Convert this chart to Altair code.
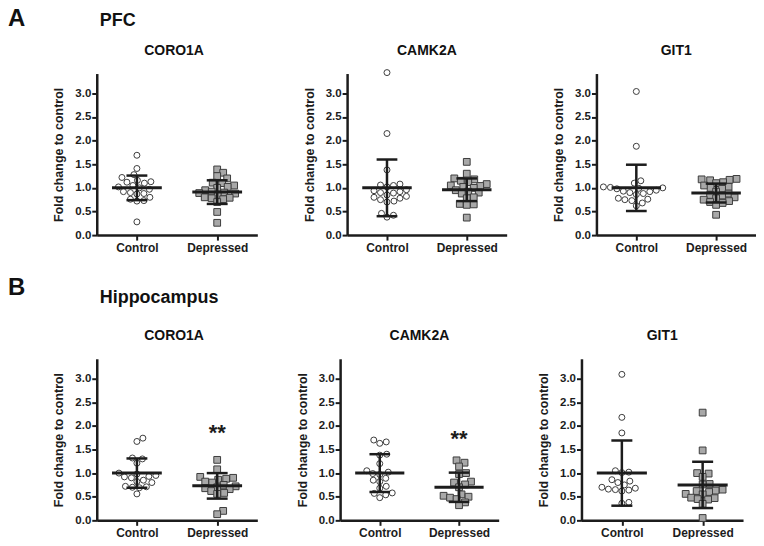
import altair as alt
import pandas as pd

# ---------------- data ----------------
groups = ["Control", "Depressed"]
regions = ["PFC", "Hippocampus"]
region_letters = ["A", "B"]
genes = ["CORO1A", "CAMK2A", "GIT1"]
y_ticks = [0.0, 0.5, 1.0, 1.5, 2.0, 2.5, 3.0]
y_max = 3.42

pfc_coro1a_control = [1.69, 1.41, 1.28, 1.22, 1.16, 1.13, 1.12, 1.10, 1.05, 1.02, 1.00,
                      0.97, 0.92, 0.90, 0.88, 0.87, 0.80, 0.76, 0.73, 0.72, 0.28]
pfc_coro1a_depressed = [1.39, 1.32, 1.25, 1.20, 1.11, 1.10, 1.05, 1.02, 1.00, 0.95, 0.92,
                        0.90, 0.89, 0.88, 0.85, 0.80, 0.79, 0.78, 0.76, 0.70, 0.49, 0.26]
pfc_camk2a_control = [3.44, 2.15, 1.38, 1.08, 1.06, 1.05, 1.02, 0.96, 0.94, 0.92, 0.90,
                      0.89, 0.85, 0.82, 0.80, 0.78, 0.75, 0.72, 0.70, 0.46, 0.42, 0.38]
pfc_camk2a_depressed = [1.55, 1.30, 1.20, 1.18, 1.15, 1.12, 1.08, 1.05, 1.04, 1.02, 1.00,
                        0.95, 0.92, 0.90, 0.88, 0.80, 0.78, 0.66, 0.65, 0.64, 0.37]
pfc_git1_control = [3.04, 1.88, 1.15, 1.10, 1.02, 1.01, 1.00, 0.99, 0.98, 0.95, 0.93,
                    0.92, 0.90, 0.88, 0.86, 0.78, 0.76, 0.75, 0.73, 0.68, 0.62]
pfc_git1_depressed = [1.19, 1.18, 1.17, 1.16, 1.12, 1.10, 1.05, 1.02, 1.00, 0.98, 0.92,
                      0.88, 0.85, 0.84, 0.80, 0.78, 0.75, 0.72, 0.70, 0.68, 0.64, 0.43]
hip_coro1a_control = [1.74, 1.67, 1.32, 1.30, 1.21, 1.00, 0.98, 0.95, 0.93, 0.92, 0.90,
                      0.85, 0.82, 0.80, 0.72, 0.71, 0.70, 0.69, 0.56]
hip_coro1a_depressed = [1.28, 1.08, 0.92, 0.90, 0.88, 0.86, 0.82, 0.80, 0.75, 0.72, 0.70,
                        0.68, 0.66, 0.62, 0.58, 0.56, 0.20, 0.13]
hip_camk2a_control = [1.70, 1.66, 1.63, 1.40, 1.38, 1.20, 1.05, 1.02, 0.99, 0.97, 0.89,
                      0.85, 0.82, 0.72, 0.68, 0.58, 0.57, 0.54, 0.48]
hip_camk2a_depressed = [1.27, 1.22, 1.14, 1.00, 0.98, 0.82, 0.80, 0.76, 0.70, 0.55, 0.52,
                        0.50, 0.48, 0.45, 0.38, 0.32]
hip_git1_control = [3.09, 2.18, 1.85, 1.05, 1.02, 1.01, 0.86, 0.83, 0.80, 0.75, 0.70,
                    0.68, 0.66, 0.65, 0.64, 0.62, 0.38, 0.36]
hip_git1_depressed = [2.28, 1.48, 1.00, 0.99, 0.92, 0.77, 0.76, 0.65, 0.63, 0.62, 0.60,
                      0.56, 0.55, 0.48, 0.47, 0.45, 0.44, 0.35, 0.05]

# mean and SD (error bars) per gene
pfc_mean_control = [1.00, 1.00, 1.00]
pfc_mean_depressed = [0.91, 0.96, 0.89]
pfc_sd_control = [0.26, 0.60, 0.49]
pfc_sd_depressed = [0.25, 0.24, 0.20]
hip_mean_control = [1.00, 1.00, 1.00]
hip_mean_depressed = [0.73, 0.70, 0.75]
hip_sd_control = [0.31, 0.40, 0.69]
hip_sd_depressed = [0.27, 0.31, 0.49]

# significance marks over the Depressed group
pfc_sig = ["", "", ""]
pfc_sig_y = [0, 0, 0]
hip_sig = ["**", "**", ""]
hip_sig_y = [1.71, 1.58, 0]

# ---------------- style / layout ----------------
FONT = "Liberation Sans"
INK = "#1c1c1c"
PANEL_H = 162
ROW_WIDTHS = [[161, 160, 160], [161, 159, 162]]
ROW_SPACING = [90, 83]
TITLE_Y = [-19, -19]
TITLE_DX = [-3, 0, 0]
LETTER_Y = [-48, -64]
REGION_Y = [-48, -56]
DIAM = 6.6
MEAN_HALF = 0.31
CAP_HALF = 0.13


def swarm(vals, ppu_y, diam):
    """Deterministic beeswarm: horizontal pixel offsets so markers do not overlap."""
    order = sorted(range(len(vals)), key=lambda i: vals[i])
    placed = []
    offs = [0.0] * len(vals)
    cands = [0.0]
    for k in range(1, 200):
        cands += [k * 0.5, -k * 0.5]
    for i in order:
        y = vals[i] * ppu_y
        chosen = 0.0
        for c in cands:
            if all((c - px) ** 2 + (y - py) ** 2 >= diam ** 2 for px, py in placed):
                chosen = c
                break
        offs[i] = chosen
        placed.append((chosen, y))
    return offs


all_values = {
    0: [(pfc_coro1a_control, pfc_coro1a_depressed),
        (pfc_camk2a_control, pfc_camk2a_depressed),
        (pfc_git1_control, pfc_git1_depressed)],
    1: [(hip_coro1a_control, hip_coro1a_depressed),
        (hip_camk2a_control, hip_camk2a_depressed),
        (hip_git1_control, hip_git1_depressed)],
}
all_stats = {
    0: (pfc_mean_control, pfc_mean_depressed, pfc_sd_control, pfc_sd_depressed, pfc_sig, pfc_sig_y),
    1: (hip_mean_control, hip_mean_depressed, hip_sd_control, hip_sd_depressed, hip_sig, hip_sig_y),
}

label_expr = "[" + ",".join("'" + g + "'" for g in groups) + "][datum.value - 1]"


def text_layer(txt, x, y, size, align):
    df = pd.DataFrame({"t": [txt]})
    return alt.Chart(df).mark_text(fontSize=size, fontWeight="bold", color="#111111",
                                   align=align, baseline="alphabetic").encode(
        x=alt.value(x), y=alt.value(y), text="t:N")


def make_panel(r, g):
    width = ROW_WIDTHS[r][g]
    ppx = width / 2.0
    ppu_y = PANEL_H / y_max
    ctrl, dep = all_values[r][g]
    mc, md, sc, sd, sig, sig_y = all_stats[r]

    rows = []
    for gi, vals in enumerate([ctrl, dep]):
        offs = swarm(vals, ppu_y, DIAM)
        for v, o in zip(vals, offs):
            rows.append({"group": groups[gi], "gx": gi + 1 + o / ppx, "value": v})
    pts = pd.DataFrame(rows)

    stats = pd.DataFrame({"group": groups, "gx": [1, 2],
                          "mean": [mc[g], md[g]], "sd": [sc[g], sd[g]]})

    xs = alt.Scale(domain=[0.5, 2.5], nice=False, zero=False)
    ys = alt.Scale(domain=[0, y_max], nice=False, zero=True)
    x_axis = alt.Axis(values=[1, 2], labelExpr=label_expr, title=None)
    y_axis = alt.Axis(values=y_ticks, format=".1f", title="Fold change to control",
                      labelOverlap=False, tickCount=7)

    def X(f):
        return alt.X(f, scale=xs, axis=x_axis)

    def Y(f):
        return alt.Y(f, scale=ys, axis=y_axis)

    points = alt.Chart(pts).mark_point(opacity=1, strokeWidth=1, stroke="#3d3d3d").encode(
        x=X("gx:Q"),
        y=Y("value:Q"),
        shape=alt.Shape("group:N", scale=alt.Scale(domain=groups, range=["circle", "square"]), legend=None),
        fill=alt.Fill("group:N", scale=alt.Scale(domain=groups, range=["#ffffff", "#a8a8a8"]), legend=None),
        size=alt.Size("group:N", scale=alt.Scale(domain=groups, range=[36, 46]), legend=None),
    )

    sbase = alt.Chart(stats).transform_calculate(
        lo="datum.mean - datum.sd", hi="datum.mean + datum.sd",
        mx1="datum.gx - %f" % MEAN_HALF, mx2="datum.gx + %f" % MEAN_HALF,
        cx1="datum.gx - %f" % CAP_HALF, cx2="datum.gx + %f" % CAP_HALF,
    )
    vbar = sbase.mark_rule(color=INK, strokeWidth=2.5).encode(
        x=X("gx:Q"), y=Y("lo:Q"), y2="hi:Q")
    mean_line = sbase.mark_rule(color=INK, strokeWidth=3).encode(
        x=X("mx1:Q"), x2="mx2:Q", y=Y("mean:Q"))
    cap_hi = sbase.mark_rule(color=INK, strokeWidth=2.5).encode(
        x=X("cx1:Q"), x2="cx2:Q", y=Y("hi:Q"))
    cap_lo = sbase.mark_rule(color=INK, strokeWidth=2.5).encode(
        x=X("cx1:Q"), x2="cx2:Q", y=Y("lo:Q"))

    layers = [points, vbar, mean_line, cap_hi, cap_lo]

    if sig[g]:
        sdf = pd.DataFrame({"gx": [2], "y": [sig_y[g]], "t": [sig[g]]})
        layers.append(alt.Chart(sdf).mark_text(fontSize=22, fontWeight="bold", color=INK,
                                                align="center", baseline="alphabetic").encode(
            x=X("gx:Q"), y=Y("y:Q"), text="t:N"))

    # gene title
    layers.append(text_layer(genes[g], width / 2 + TITLE_DX[g], TITLE_Y[r], 14, "center"))

    if g == 0:
        layers.append(text_layer(region_letters[r], -89, LETTER_Y[r], 24, "left"))
        layers.append(text_layer(regions[r], 3, REGION_Y[r], 18, "left"))

    return alt.layer(*layers).properties(width=width, height=PANEL_H)


row_charts = []
for r in range(2):
    row_charts.append(alt.hconcat(*[make_panel(r, g) for g in range(3)],
                                  spacing=ROW_SPACING[r], bounds="flush"))

chart = alt.vconcat(*row_charts, spacing=23).properties(
    padding={"left": 0, "top": -2, "right": 0, "bottom": 0}
).configure(
    font=FONT
).configure_view(stroke=None).configure_axis(
    grid=False, domainColor=INK, domainWidth=2.5, tickColor=INK, tickWidth=2, tickSize=5,
    labelFont=FONT, labelFontWeight="bold", labelColor=INK, labelFontSize=12,
    titleFont=FONT, titleFontWeight="bold", titleColor=INK, titleFontSize=12.5,
).configure_axisY(labelFontSize=11.5, labelPadding=1, titlePadding=9).configure_axisX(
    labelPadding=2, labelFontSize=12
)

chart.save("out.html", embed_options={"renderer": "svg", "actions": False})
